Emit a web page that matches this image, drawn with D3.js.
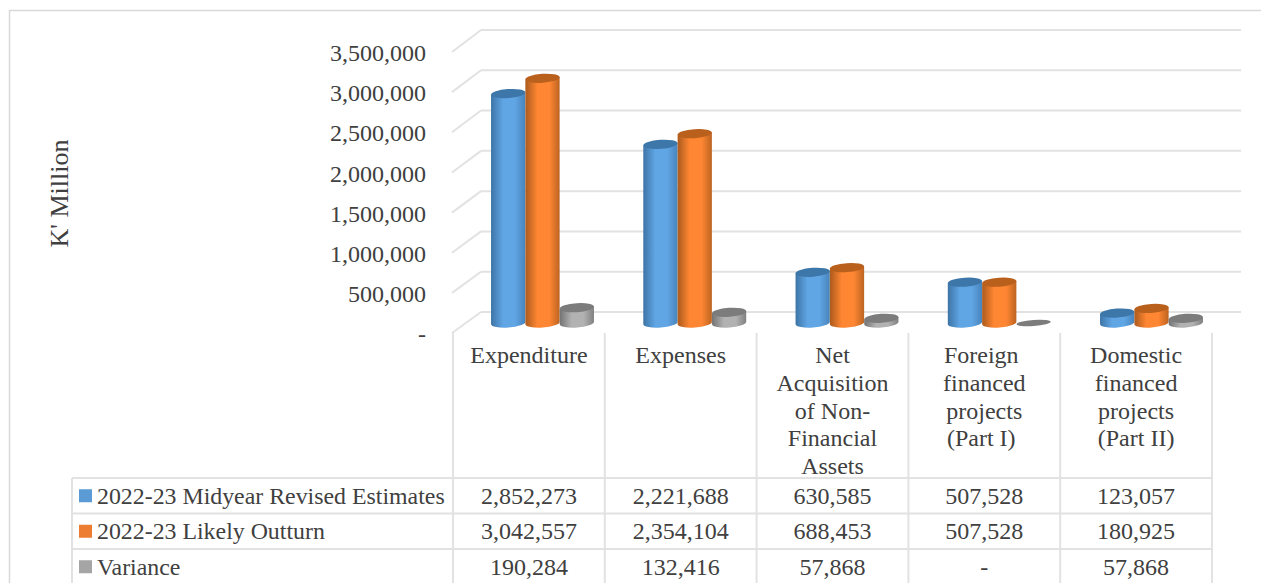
<!DOCTYPE html>
<html>
<head>
<meta charset="utf-8">
<script src="https://cdn.jsdelivr.net/npm/d3@7"></script>
<style>
html, body { margin: 0; padding: 0; background: #fff; overflow: hidden; }
text { font-family: "Liberation Serif", serif; fill: #404040; }
</style>
</head>
<body>
<script>
const categories = ["Expenditure", "Expenses", "Net Acquisition of Non-Financial Assets", "Foreign financed projects (Part I)", "Domestic financed projects (Part II)"];
// the trailing spaces are how the wrapped lines sit in the original cells
const categoryLines = [["Expenditure"], ["Expenses"], ["Net", "Acquisition", "of Non-", "Financial", "Assets"], ["Foreign\u00a0", "financed", "projects", "(Part I)\u00a0"], ["Domestic", "financed", "projects", "(Part II)"]];
const seriesNames = ["2022-23 Midyear Revised Estimates", "2022-23 Likely Outturn", "Variance"];
const midyear = [2852273, 2221688, 630585, 507528, 123057];
const outturn = [3042557, 2354104, 688453, 507528, 180925];
const variance = [190284, 132416, 57868, 0, 57868];
const yTicks = [0, 500000, 1000000, 1500000, 2000000, 2500000, 3000000, 3500000];
const allSeries = [midyear, outturn, variance];
const legendColors = ["#5b9bd5", "#ed7d31", "#a5a5a5"];
const barShades = [
  {edge: "#3d74a6", mid: "#60a5e4", edge2: "#4884bc", top: "#3c76a8"},
  {edge: "#ab5a1e", mid: "#ff8632", edge2: "#bc6422", top: "#b8601f"},
  {edge: "#737373", mid: "#b2b2b2", edge2: "#808080", top: "#7c7c7c"}
];

const width = 1261, height = 583;
const grid = "#e2e2e2";
const fmt = d3.format(",");

const svg = d3.select("body").append("svg").attr("width", width).attr("height", height);

// gradients for the cylinders
const defs = svg.append("defs");
barShades.forEach((s, i) => {
  const g = defs.append("linearGradient").attr("id", "cyl" + i);
  g.append("stop").attr("offset", "0%").attr("stop-color", s.edge);
  g.append("stop").attr("offset", "35%").attr("stop-color", s.mid);
  g.append("stop").attr("offset", "70%").attr("stop-color", s.mid);
  g.append("stop").attr("offset", "100%").attr("stop-color", s.edge2);
});
// the original is a soft screenshot, so the bars get a slight blur
defs.append("filter").attr("id", "soft").append("feGaussianBlur").attr("stdDeviation", 0.6);

// outer border
svg.append("rect").attr("x", 9.5).attr("y", 10.5).attr("width", 1300).attr("height", 700)
  .attr("fill", "none").attr("stroke", "#d9d9d9").attr("stroke-width", 1.5);

const x = d3.scaleBand().domain(categories).range([453, 1212]);
// bars sit on the 3D floor, so their step is a bit wider than the table columns
const xBar = d3.scaleBand().domain(categories).range([491, 1252.25]);
const xSeries = d3.scaleBand().domain(d3.range(3)).range([0, 103]);
const yBack = d3.scaleLinear().domain([0, 3500000]).range([312, 30]);
const yFront = d3.scaleLinear().domain([0, 3500000]).range([333, 52]);
const yBar = d3.scaleLinear().domain([0, 3500000]).range([323, 41.5]);

// back wall gridlines and the slanted side wall
const wall = svg.append("g").attr("stroke", grid).attr("stroke-width", 2).attr("fill", "none");
wall.selectAll(".back").data(yTicks).enter().append("line").attr("class", "back")
  .attr("x1", 481).attr("x2", 1241).attr("y1", d => yBack(d)).attr("y2", d => yBack(d));
wall.selectAll(".side").data(yTicks).enter().append("line").attr("class", "side")
  .attr("x1", 452).attr("x2", 481).attr("y1", d => yFront(d)).attr("y2", d => yBack(d));

// value axis
const yAxis = d3.axisLeft(yFront).tickValues(yTicks).tickSize(0).tickPadding(0)
  .tickFormat(d => d === 0 ? "-" : fmt(d));
const axisG = svg.append("g").attr("transform", "translate(426,1)").call(yAxis);
axisG.select(".domain").remove();
axisG.selectAll("text").style("font-family", "Liberation Serif").style("font-size", "24px").attr("fill", "#404040");

svg.append("text").attr("transform", "translate(68,193.5) rotate(-90)").attr("text-anchor", "middle")
  .style("font-size", "26px").text("K' Million");

// cylinders, tilted a little like the 3D original
const tilt = -4, ry = 4.5;
function cylPath(cx, rx, yTop, yBottom) {
  const dx = rx * Math.cos(tilt * Math.PI / 180), dy = rx * Math.sin(tilt * Math.PI / 180);
  return `M${cx - dx},${yTop - dy} L${cx - dx},${yBottom - dy} A${rx},${ry} ${tilt} 0 0 ${cx + dx},${yBottom + dy} L${cx + dx},${yTop + dy} Z`;
}
categories.forEach((c, ci) => {
  const group = svg.append("g").attr("filter", "url(#soft)");
  allSeries.forEach((vals, si) => {
    const v = vals[ci];
    const rx = xSeries.bandwidth() / 2;
    const cx = xBar(c) + xSeries(si) + rx;
    const yT = yBar(v), yB = yBar(0);
    if (v > 0) {
      group.append("path").attr("d", cylPath(cx, rx, yT, yB)).attr("fill", `url(#cyl${si})`);
    }
    group.append("ellipse").attr("cx", cx).attr("cy", yT).attr("rx", rx).attr("ry", v > 0 ? ry : 3)
      .attr("transform", `rotate(${tilt} ${cx} ${yT})`).attr("fill", barShades[si].top);
  });
});

// data table
const rowY = d3.scaleBand().domain(d3.range(3)).range([478, 478 + 35.5 * 3]);
const tableLines = svg.append("g").attr("stroke", grid).attr("stroke-width", 2);
x.domain().concat("end").forEach(c => {
  const px = c === "end" ? x.range()[1] : x(c);
  tableLines.append("line").attr("x1", px).attr("x2", px).attr("y1", 333).attr("y2", height);
});
tableLines.append("line").attr("x1", 72).attr("x2", 72).attr("y1", rowY(0)).attr("y2", height);
d3.range(3).forEach(r => {
  tableLines.append("line").attr("x1", 72).attr("x2", 1212).attr("y1", rowY(r)).attr("y2", rowY(r));
});

// category headers
categories.forEach((c, ci) => {
  const t = svg.append("text").attr("text-anchor", "middle").style("font-size", "24px");
  categoryLines[ci].forEach((line, li) => {
    t.append("tspan").attr("x", x(c) + x.bandwidth() / 2).attr("y", 363 + li * 27.8).text(line);
  });
});

// legend keys, names and values
seriesNames.forEach((name, r) => {
  const yMid = rowY(r) + rowY.bandwidth() / 2;
  svg.append("rect").attr("x", 79).attr("y", yMid - 6.5).attr("width", 13).attr("height", 13).attr("fill", legendColors[r]);
  svg.append("text").attr("x", 97).attr("y", yMid + 8).style("font-size", "23.85px").text(name);
  allSeries[r].forEach((v, ci) => {
    svg.append("text").attr("text-anchor", "middle").attr("x", x(categories[ci]) + x.bandwidth() / 2)
      .attr("y", yMid + 8).style("font-size", "24px").text(v === 0 ? "-" : fmt(v));
  });
});
</script>
</body>
</html>
